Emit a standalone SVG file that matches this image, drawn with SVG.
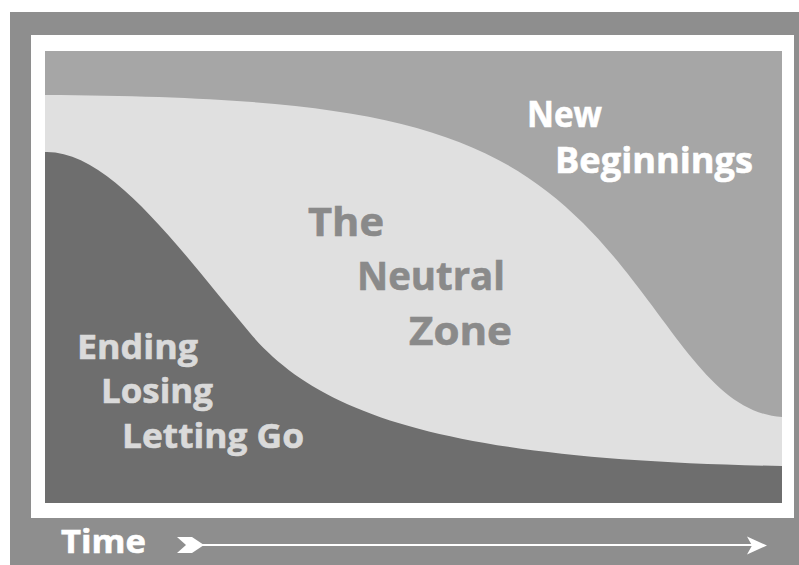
<svg xmlns="http://www.w3.org/2000/svg" width="799" height="565" viewBox="0 0 799 565">
  <style>
    .lbl { font-family: "Open Sans", "Liberation Sans", sans-serif; font-weight: bold; stroke-width: 0.6; }
    .white { fill: #ffffff; stroke: #ffffff; }
    .neutral-txt { fill: #8a8a8a; stroke: #8a8a8a; }
    .ending-txt { fill: #dadada; stroke: #dadada; }
  </style>
  <rect x="0" y="0" width="799" height="565" fill="#ffffff"/>
  <rect id="background" x="10" y="12" width="789" height="553" fill="#8e8e8e"/>
  <rect id="frame" x="31" y="35" width="763" height="483" fill="#ffffff"/>
  <g id="new-beginnings">
    <rect x="45" y="51" width="737" height="452" fill="#a6a6a6"/>
    <text class="lbl white" x="527" y="127" font-size="36" textLength="75" lengthAdjust="spacingAndGlyphs">New</text>
    <text class="lbl white" x="555" y="173" font-size="36" textLength="198" lengthAdjust="spacingAndGlyphs">Beginnings</text>
  </g>
  <g id="neutral-zone">
    <path d="M45,95 C350,97 480,120 583,223 C668,308 705,412 782,417 L782,503 L45,503 Z" fill="#e0e0e0"/>
    <text class="lbl neutral-txt" x="308" y="236" font-size="40" textLength="76" lengthAdjust="spacingAndGlyphs">The</text>
    <text class="lbl neutral-txt" x="357" y="290" font-size="40" textLength="148" lengthAdjust="spacingAndGlyphs">Neutral</text>
    <text class="lbl neutral-txt" x="409" y="345" font-size="40" textLength="103" lengthAdjust="spacingAndGlyphs">Zone</text>
  </g>
  <g id="ending">
    <path d="M45,152 C110,150 180,250 250,333 C320,416 450,460 782,466 L782,503 L45,503 Z" fill="#6e6e6e"/>
    <text class="lbl ending-txt" x="77" y="359" font-size="34" textLength="121" lengthAdjust="spacingAndGlyphs">Ending</text>
    <text class="lbl ending-txt" x="101" y="403" font-size="34" textLength="112" lengthAdjust="spacingAndGlyphs">Losing</text>
    <text class="lbl ending-txt" x="122" y="448" font-size="34" textLength="182" lengthAdjust="spacingAndGlyphs">Letting Go</text>
  </g>
  <g id="time">
    <text class="lbl white" x="61" y="553" font-size="33" textLength="85" lengthAdjust="spacingAndGlyphs">Time</text>
  </g>
  <g id="connectors">
    <polygon points="177,537 192,537 204,545 192,553 177,553 186,545" fill="#ffffff"/>
    <line x1="200" y1="545" x2="752" y2="545" stroke="#ffffff" stroke-width="2"/>
    <polygon points="747,536.5 767,545.5 747,554.5 752,545.5" fill="#ffffff"/>
  </g>
</svg>
